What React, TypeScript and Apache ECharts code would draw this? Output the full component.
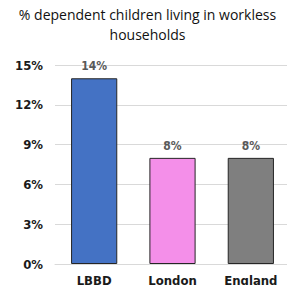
import React, { useEffect, useRef } from "react";
import * as echarts from "echarts";

const categories = ["LBBD", "London", "England"];
const values = [14, 8, 8];
const colors = ["#4472C4", "#F48FE9", "#7F7F7F"];
const yTicks = [0, 3, 6, 9, 12, 15];

const narrow = "'DejaVu Sans Condensed', 'Liberation Sans Narrow', 'Liberation Sans', sans-serif";

export default function App() {
  const ref = useRef<HTMLDivElement>(null);
  useEffect(() => {
    const chart = echarts.init(ref.current!, null, { renderer: "svg" });
    chart.setOption({
      animation: false,
      title: {
        text: "% dependent children living in workless\nhouseholds",
        left: "center",
        top: 4,
        padding: 0,
        textStyle: {
          fontFamily: "Open Sans",
          fontSize: 14,
          fontWeight: "normal",
          color: "#111111",
          lineHeight: 20,
        },
      },
      grid: { left: 55, right: 5, top: 65, bottom: 29, containLabel: false },
      xAxis: {
        type: "category",
        data: categories,
        axisLine: { show: true, lineStyle: { color: "#d9d9d9" } },
        axisTick: { show: false },
        axisLabel: {
          fontFamily: narrow,
          fontWeight: "bold",
          fontSize: 13,
          color: "#1a1a1a",
          margin: 10,
        },
      },
      yAxis: {
        type: "value",
        min: yTicks[0],
        max: yTicks[yTicks.length - 1],
        interval: 3,
        axisLine: { show: false },
        axisTick: { show: false },
        splitLine: { lineStyle: { color: "#d9d9d9" } },
        axisLabel: {
          formatter: "{value}%",
          fontFamily: narrow,
          fontWeight: "bold",
          fontSize: 13,
          color: "#1a1a1a",
          margin: 12,
        },
      },
      series: [
        {
          type: "bar",
          barWidth: "59%",
          data: values.map((v, i) => ({
            value: v,
            itemStyle: { color: colors[i] },
          })),
          itemStyle: { borderColor: "#262626", borderWidth: 1 },
          label: {
            show: true,
            position: "top",
            formatter: "{c}%",
            fontFamily: narrow,
            fontWeight: "bold",
            fontSize: 12,
            color: "#595959",
            distance: 6,
          },
        },
      ],
    });
    return () => chart.dispose();
  }, []);
  return <div ref={ref} style={{ width: 295, height: 293, margin: -8 }} />;
}
